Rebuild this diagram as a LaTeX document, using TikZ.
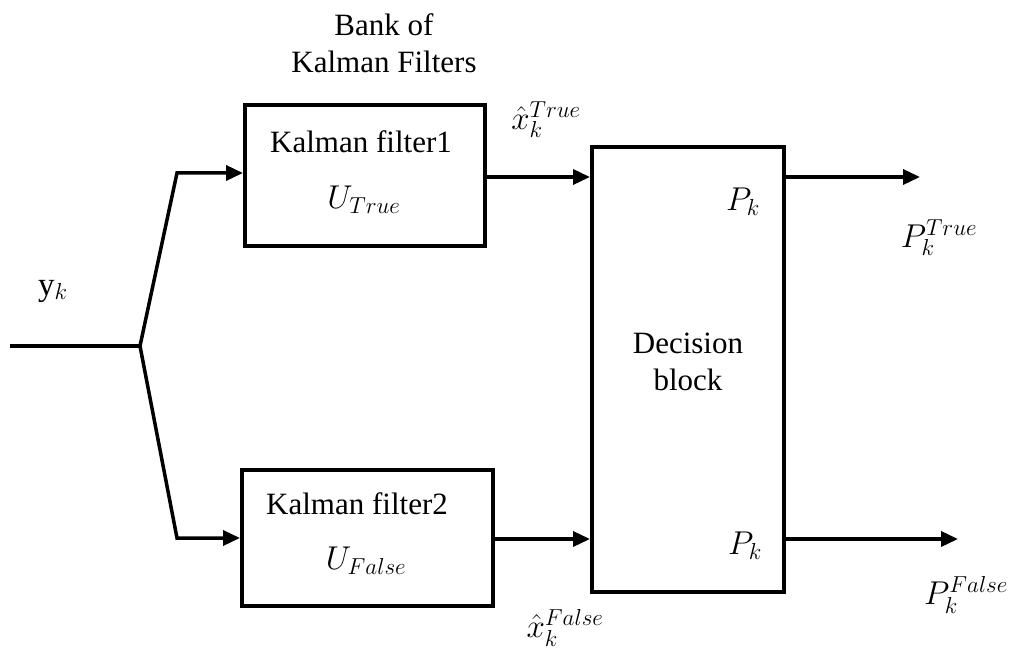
\RequirePackage{fix-cm}
\documentclass[tikz,border=0pt]{standalone}
\usepackage{fontspec}
\setmainfont{Liberation Serif}
\usetikzlibrary{arrows.meta}
\begin{document}
\begin{tikzpicture}[x=1pt,y=-1pt,
  blk/.style={draw,line width=4pt,inner sep=0pt},
  wire/.style={line width=3.5pt},
  arr/.style={wire,-{Triangle[length=17pt,width=15pt]}},
  txt/.style={inner sep=0pt,font=\fontsize{31}{37.5}\selectfont,align=center},
  mth/.style={inner sep=0pt,font=\fontsize{33}{38}\selectfont}]
\useasboundingbox (0,0) rectangle (1011,652);
% blocks
\node[blk,minimum width=240pt,minimum height=141pt] (kf1) at (365,175.5) {};
\node[blk,minimum width=251pt,minimum height=136pt] (kf2) at (367.5,538) {};
\node[blk,minimum width=192pt,minimum height=445pt] (dec) at (688,369.5) {};
% texts
\node[txt] (bank) at (384,43) {Bank of\\Kalman Filters};
\node[txt] (t1) at (361,142) {Kalman filter1};
\node[mth] (u1) at (364,200) {$U_{True}$};
\node[txt] (t2) at (357,504) {Kalman filter2};
\node[mth] (u2) at (366,561) {$U_{False}$};
\node[txt] (d) at (688,362) {Decision\\block};
\node[mth] (p1) at (743,202) {$P_k$};
\node[mth] (p2) at (745,546) {$P_k$};
\node[mth] (yk) at (53,291) {$\mathrm{y}_k$};
\node[mth] (xt) at (546,120) {$\hat{x}_k^{True}$};
\node[mth] (xf) at (565,628) {$\hat{x}_k^{False}$};
\node[mth] (pt) at (939,238) {$P_k^{True}$};
\node[mth] (pf) at (966,595) {$P_k^{False}$};
% coordinates
\coordinate (in) at (10,346);
\coordinate (sp) at (140,346);
\coordinate (c1) at (177,173);
\coordinate (c2) at (177,538);
\coordinate (o1) at (920,177);
\coordinate (o2) at (958,539);
% connectors
\draw[wire] (in) -- (sp);
\draw[arr,line join=miter] (sp) -- (c1) -- (c1 -| kf1.west);
\draw[arr,line join=miter] (sp) -- (c2) -- (c2 -| kf2.west);
\draw[arr] (kf1.east |- 0,177) -- (dec.west |- 0,177);
\draw[arr] (kf2.east |- 0,539) -- (dec.west |- 0,539);
\draw[arr] (dec.east |- o1) -- (o1);
\draw[arr] (dec.east |- o2) -- (o2);
\end{tikzpicture}
\end{document}
